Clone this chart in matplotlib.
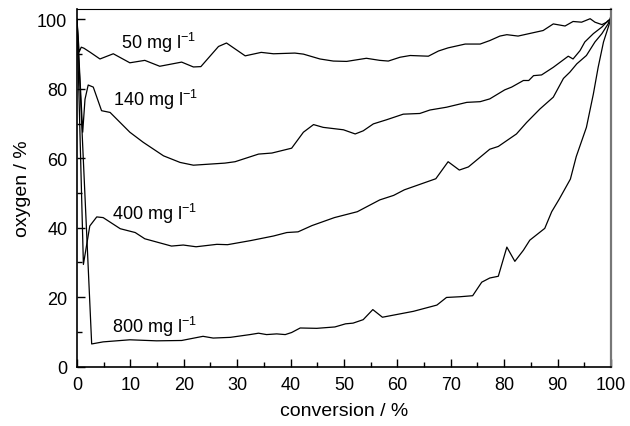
import numpy as np
import matplotlib
matplotlib.use("Agg")
import matplotlib.pyplot as plt
from matplotlib.ticker import MultipleLocator

plt.rcParams['font.family'] = ['Liberation Sans', 'DejaVu Sans']
plt.rcParams['mathtext.fontset'] = 'custom'
plt.rcParams['mathtext.rm'] = 'Liberation Sans'

# oxygen (%) vs conversion (%) for four loadings
conv_50 = [0, 0.4, 0.8, 1.3, 2.5, 4.3, 6.8, 9.9, 12.7, 15.5, 19.6, 21.8, 23.2,
           26.5, 28.0, 31.5, 34.5, 36.8, 40.8, 42.4, 45.5, 48.0, 50.5, 54.2,
           56.7, 58.3, 60.5, 62.4, 65.8, 67.7, 69.5, 72.7, 75.5, 77.3, 79.2,
           80.5, 82.6, 87.3, 89.2, 91.4, 92.9, 94.5, 96.1, 97.0, 98.3, 99.2,
           99.8, 100]
oxy_50 = [100, 90.6, 92.0, 91.7, 90.5, 88.6, 90.1, 87.5, 88.2, 86.5, 87.7, 86.3,
          86.4, 92.2, 93.2, 89.5, 90.5, 90.1, 90.3, 90.0, 88.6, 88.0, 87.9,
          88.8, 88.2, 88.0, 89.1, 89.6, 89.4, 90.9, 91.8, 92.9, 92.9, 93.9,
          95.2, 95.6, 95.2, 96.8, 98.7, 98.1, 99.4, 99.2, 100.2, 99.2, 98.5,
          99.2, 100, 98.5]

conv_140 = [0, 1.07, 1.5, 2.1, 3.05, 4.6, 6.2, 9.9, 12.4, 16.2, 19.3, 21.8,
            27.7, 29.6, 34.0, 36.5, 40.2, 42.4, 44.3, 46.1, 49.9, 52.1, 53.6,
            55.5, 58.0, 61.1, 64.2, 66.1, 69.2, 73.0, 75.5, 77.3, 80.1, 81.4,
            83.6, 84.6, 85.5, 87.0, 89.2, 92.0, 92.9, 94.2, 95.1, 96.7, 98.3,
            99.5, 100]
oxy_140 = [100, 67.5, 77.0, 81.1, 80.5, 73.7, 73.2, 67.5, 64.6, 60.7, 58.8,
           58.0, 58.6, 59.0, 61.2, 61.5, 62.9, 67.5, 69.7, 68.9, 68.2, 67.0,
           67.9, 69.9, 71.1, 72.7, 72.9, 73.9, 74.7, 76.1, 76.3, 77.1, 79.7,
           80.5, 82.4, 82.4, 83.8, 84.0, 86.2, 89.4, 88.6, 91.0, 93.5, 95.9,
           97.8, 99.7, 100]

conv_400 = [0, 1.2, 2.4, 3.7, 4.9, 8.1, 10.9, 12.7, 17.7, 19.9, 22.3, 26.2,
            28.2, 32.6, 36.8, 39.3, 41.4, 44.0, 48.2, 52.5, 56.7, 59.3, 61.3,
            67.2, 69.5, 71.6, 73.3, 77.3, 78.9, 82.3, 84.2, 86.7, 89.2, 91.1,
            92.3, 93.6, 95.4, 97.0, 98.3, 99.5, 100]
oxy_400 = [100, 29.4, 40.5, 43.1, 42.9, 39.7, 38.6, 36.8, 34.7, 35.0, 34.5,
           35.2, 35.1, 36.3, 37.6, 38.6, 38.8, 40.6, 42.9, 44.6, 48.0, 49.3,
           50.9, 54.1, 59.0, 56.6, 57.5, 62.6, 63.4, 67.0, 70.3, 74.2, 77.6,
           83.0, 84.8, 87.2, 89.6, 93.5, 95.9, 98.8, 101]

conv_800 = [0, 2.75, 4.9, 9.9, 14.9, 19.6, 23.6, 25.5, 28.7, 32.4, 34.0, 35.5,
            37.4, 39.0, 40.2, 41.8, 44.9, 48.3, 50.3, 51.7, 53.6, 55.4, 57.2,
            63.0, 67.4, 69.2, 71.7, 74.1, 75.8, 77.3, 78.9, 80.5, 82.0, 83.6,
            84.8, 87.6, 88.9, 90.3, 92.4, 93.5, 95.4, 96.7, 97.6, 98.6, 99.5,
            100]
oxy_800 = [100, 6.5, 7.1, 7.7, 7.4, 7.5, 8.7, 8.2, 8.4, 9.2, 9.6, 9.2, 9.4,
           9.2, 9.8, 11.1, 11.0, 11.4, 12.3, 12.5, 13.5, 16.4, 14.2, 15.9,
           17.7, 19.9, 20.1, 20.4, 24.3, 25.5, 26.0, 34.4, 30.3, 33.5, 36.4,
           39.8, 44.6, 48.2, 54.0, 60.5, 68.9, 78.5, 86.2, 93.5, 97.8, 100.2]

labels = ["50", "140", "400", "800"]
label_pos = [(8.3, 93.5), (6.8, 77.1), (6.5, 44.3), (6.5, 11.6)]

fig = plt.figure(figsize=(6.3, 4.27), dpi=100)
ax = fig.add_axes([0.1222, 0.1393, 0.8476, 0.8373])

for cx, oy in [(conv_50, oxy_50), (conv_140, oxy_140),
               (conv_400, oxy_400), (conv_800, oxy_800)]:
    ax.plot(cx, oy, color='black', lw=0.9)

for lab, (tx, ty) in zip(labels, label_pos):
    ax.text(tx, ty, lab + r" mg l$^{\mathregular{-1}}$", fontsize=13,
            va='center', ha='left')

ax.set_xlim(0, 100)
ax.set_ylim(0, 103)
ax.xaxis.set_major_locator(MultipleLocator(10))
ax.xaxis.set_minor_locator(MultipleLocator(5))
ax.yaxis.set_major_locator(MultipleLocator(20))
ax.yaxis.set_minor_locator(MultipleLocator(10))
ax.tick_params(which='both', direction='in', labelsize=13, width=1)
ax.tick_params(which='major', length=6)
ax.tick_params(which='minor', length=3.5)
ax.tick_params(axis='x', pad=7)
ax.tick_params(axis='y', pad=7)

ax.spines['left'].set_linewidth(1.2)
ax.spines['bottom'].set_linewidth(1.2)
ax.spines['top'].set_linewidth(0.8)
ax.spines['right'].set_linewidth(1.6)
ax.spines['right'].set_color('#777777')

ax.set_xlabel("conversion / %", fontsize=14, labelpad=6)
ax.set_ylabel("oxygen / %", fontsize=14, labelpad=4)

fig.savefig("out.png", dpi=100)
